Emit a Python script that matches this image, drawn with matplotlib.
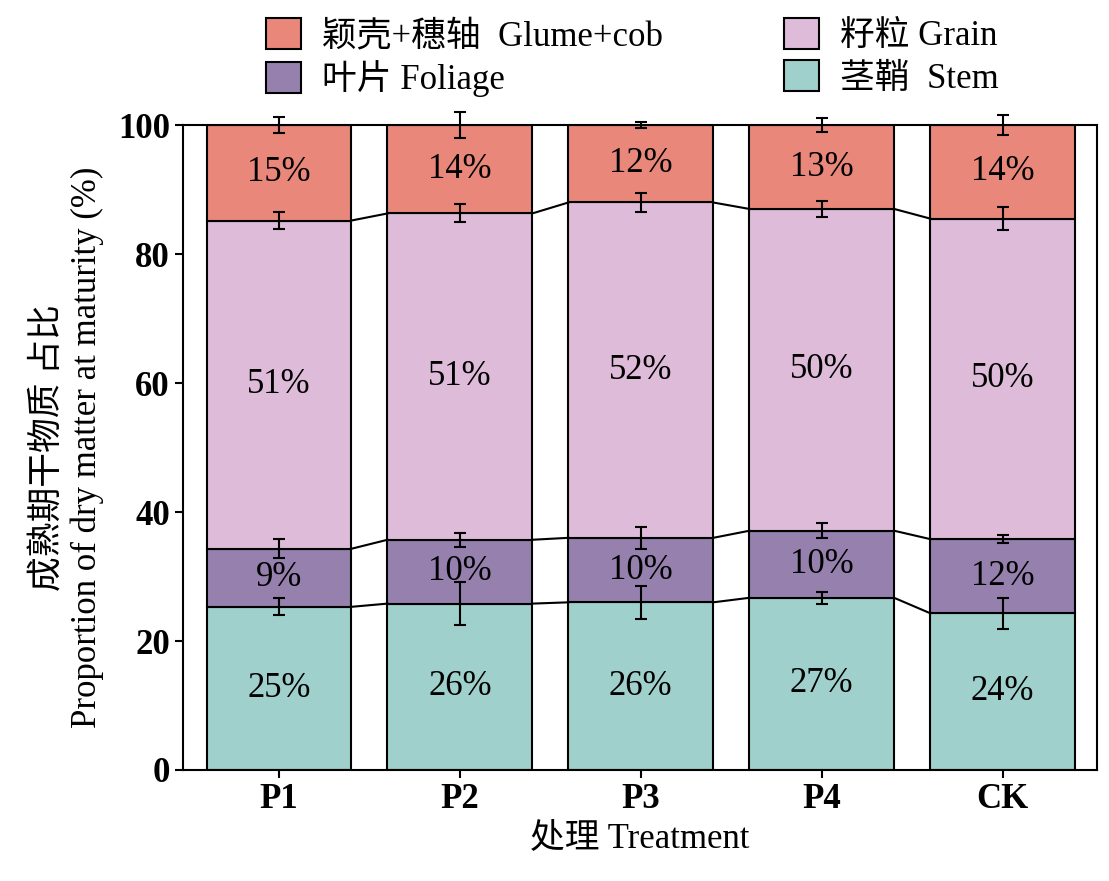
import numpy as np
import matplotlib.pyplot as plt

plt.rcParams['font.family'] = ['Liberation Serif', 'Noto Sans CJK SC']

groups = ["P1", "P2", "P3", "P4", "CK"]
stem = [25.3, 25.8, 26.0, 26.7, 24.3]
foliage = [9.0, 9.9, 10.0, 10.4, 11.5]
grain = [50.9, 50.6, 52.0, 49.9, 49.7]
glume = [14.8, 13.7, 12.0, 13.0, 14.5]
stem_err = [1.3, 3.3, 2.6, 0.9, 2.4]
foliage_err = [1.5, 1.1, 1.7, 1.2, 0.6]
grain_err = [1.3, 1.4, 1.5, 1.3, 1.8]
glume_err = [1.3, 2.0, 0.5, 1.1, 1.6]
stem_lab = ["25%", "26%", "26%", "27%", "24%"]
foliage_lab = ["9%", "10%", "10%", "10%", "12%"]
grain_lab = ["51%", "51%", "52%", "50%", "50%"]
glume_lab = ["15%", "14%", "12%", "13%", "14%"]

fig = plt.figure(figsize=(11.09, 8.81), dpi=100)
ax = fig.add_axes([0.165, 0.126, 0.824, 0.732])
x = np.arange(len(groups))
w = 0.8

layers = [
    (stem, stem_err, stem_lab, "#9fd0cb", "茎鞘  Stem"),
    (foliage, foliage_err, foliage_lab, "#9580ae", "叶片 Foliage"),
    (grain, grain_err, grain_lab, "#ddbbd9", "籽粒 Grain"),
    (glume, glume_err, glume_lab, "#e8877a", "颖壳+穗轴  Glume+cob"),
]
bottom = np.zeros(len(groups))
handles = {}
for vals, err, labs, col, name in layers:
    vals = np.array(vals)
    b = ax.bar(x, vals, w, bottom=bottom, color=col, edgecolor="black", linewidth=1.5, label=name)
    handles[name] = b
    top = bottom + vals
    eb = ax.errorbar(x, top, yerr=err, fmt="none", ecolor="black", elinewidth=1.5, capsize=4, capthick=1.5)
    for art in eb.lines[1] + eb.lines[2]:
        art.set_clip_on(False)
    for i in range(len(groups)):
        ax.text(x[i], bottom[i] + vals[i] / 2, labs[i], ha="center", va="center", fontsize=25)
        if i < len(groups) - 1 and name != layers[-1][4]:
            ax.plot([x[i] + w / 2, x[i + 1] - w / 2], [top[i], top[i + 1]], color="black", lw=1.5)
    bottom = top

ax.set_xlim(-0.53, 4.52)
ax.set_ylim(0, 100)
ax.set_xticks(x)
ax.set_xticklabels(groups, fontsize=25, fontweight="bold")
ax.set_yticks([0, 20, 40, 60, 80, 100])
ax.tick_params(axis="y", labelsize=25, width=1.5, length=6)
ax.tick_params(axis="x", width=1.5, length=6)
for lbl in ax.get_yticklabels():
    lbl.set_fontweight("bold")
for s in ax.spines.values():
    s.set_linewidth(1.5)
ax.set_xlabel("处理 Treatment", fontsize=25, labelpad=4)
ax.set_ylabel("成熟期干物质 占比\nProportion of dry matter at maturity (%)", fontsize=25, labelpad=10)

order = ["颖壳+穗轴  Glume+cob", "叶片 Foliage", "籽粒 Grain", "茎鞘  Stem"]
fig.legend([handles[n] for n in order], order, ncol=2, loc="upper center",
           bbox_to_anchor=(0.57, 1.015), frameon=False, fontsize=25,
           handlelength=1.0, handleheight=1.0, columnspacing=3.5, labelspacing=0.2,
           handletextpad=0.6)

fig.savefig("out.png")
